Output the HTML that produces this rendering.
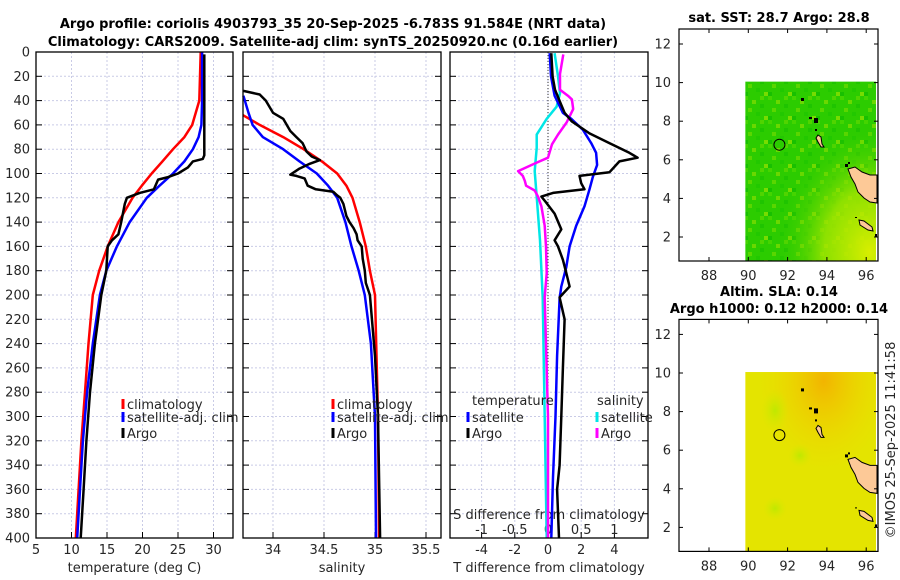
<!DOCTYPE html>
<html><head><meta charset="utf-8">
<style>
html,body{margin:0;padding:0;background:#fff;}
svg{display:block;font-family:"DejaVu Sans","Liberation Sans",sans-serif;}
</style></head>
<body>
<svg id="chart" width="900" height="580" viewBox="0 0 900 580" xmlns="http://www.w3.org/2000/svg">
<defs>
<radialGradient id="sstYel" cx="0.95" cy="0.95" r="0.7">
<stop offset="0" stop-color="#d8ee00"/><stop offset="0.5" stop-color="#a6e600" stop-opacity="0.8"/><stop offset="1" stop-color="#33cc00" stop-opacity="0"/>
</radialGradient>
<pattern id="mottle" width="24" height="24" patternUnits="userSpaceOnUse">
<rect width="24" height="24" fill="#2ccc00"/>
<rect width="4" height="4" fill="#44d400"/><rect x="8" y="4" width="4" height="4" fill="#6ad800"/>
<rect x="16" y="8" width="4" height="4" fill="#1fc400"/><rect x="4" y="12" width="4" height="4" fill="#5ad600"/>
<rect x="12" y="16" width="4" height="4" fill="#22c800"/><rect x="20" y="20" width="4" height="4" fill="#77dc00"/>
<rect x="0" y="20" width="4" height="4" fill="#18c000"/><rect x="16" y="0" width="4" height="4" fill="#50d400"/>
</pattern>
<radialGradient id="slaOr" cx="0.6" cy="0.05" r="0.5">
<stop offset="0" stop-color="#f2b400"/><stop offset="1" stop-color="#f0d800" stop-opacity="0"/>
</radialGradient>
<radialGradient id="slaGr1" cx="0.5" cy="0.5" r="0.5">
<stop offset="0" stop-color="#bfe800"/><stop offset="1" stop-color="#d8e800" stop-opacity="0"/>
</radialGradient>
</defs>
<g id="layer"></g>
</svg>
<script>
// ---- data (depth in dbar) ----
const climDepth = [0,40,60,70,80,90,100,110,120,140,160,180,200,240,280,320,360,400];
const climTemp  = [28.2,28.0,27.0,25.9,24.3,22.8,21.3,19.9,18.6,16.6,15.1,13.9,13.0,12.4,11.9,11.4,11.0,10.6];
const satDepth  = [0,40,60,70,80,90,100,110,120,140,160,180,200,240,280,320,360,400];
const satTemp   = [28.4,28.4,28.3,27.9,27.1,25.9,24.3,22.4,20.6,18.2,16.4,14.9,14.0,13.0,12.2,11.6,11.2,10.8];
const argoTDepth= [2,85,88,90,95,100,103,105,113,116,120,125,140,150,155,160,180,200,240,280,320,360,400];
const argoTemp  = [28.7,28.7,28.5,27.1,26.4,25.0,23.6,22.2,21.6,19.6,17.8,17.5,17.0,16.6,15.7,15.1,14.9,14.2,13.3,12.6,12.1,11.7,11.3];

const climSDepth= [52,60,70,80,90,100,110,120,140,160,180,200,300,400];
const climSal   = [33.706,33.87,34.10,34.30,34.48,34.63,34.72,34.78,34.85,34.91,34.95,35.0,35.03,35.04];
const satSDepth = [36,50,60,70,80,90,100,110,120,140,160,180,200,240,300,400];
const satSal    = [33.71,33.76,33.80,33.90,34.10,34.26,34.43,34.54,34.63,34.71,34.77,34.84,34.90,34.96,35.0,35.01];
const argoSDepth= [32,35,40,50,55,65,70,75,82,86,89,92,96,101,102,104,110,113,115,118,120,125,135,140,145,150,155,160,170,180,190,200,250,300,400];
const argoSal   = [33.71,33.87,33.93,34.0,34.1,34.17,34.23,34.29,34.33,34.38,34.46,34.36,34.26,34.17,34.23,34.31,34.34,34.42,34.59,34.63,34.66,34.69,34.72,34.75,34.79,34.82,34.83,34.87,34.88,34.90,34.91,34.95,35.0,35.03,35.05];

const dTArgoDepth = [1,20,31,41,50,57,67,75,83,87,90,93,99,102,108,113,116,119,124,133,146,155,160,171,182,193,202,220,260,300,340,360,400];
const dTArgo      = [0.2,0.28,0.42,0.72,1.0,1.43,2.5,3.7,4.9,5.4,4.3,4.1,3.7,1.9,2.0,2.2,0.3,-0.4,-0.1,0.4,0.8,0.4,0.6,0.9,1.1,1.3,0.7,1.0,0.9,0.8,0.7,0.55,0.66];
const dTSatDepth  = [1,20,36,50,55,64,75,83,93,103,113,127,143,160,177,193,203,250,300,350,400];
const dTSat       = [0.1,0.18,0.4,0.9,1.4,2.1,2.6,2.9,2.96,2.7,2.5,2.2,1.7,1.3,1.1,0.8,0.7,0.55,0.45,0.3,0.2];
const dSSatDepth  = [1,20,34,45,55,68,79,98,119,155,202,300,400];
const dSSat       = [0.1,0.15,0.18,0.13,-0.02,-0.17,-0.17,-0.2,-0.17,-0.12,-0.08,-0.05,-0.02];
const dSArgoDepth = [2,18,31,36,39,47,58,68,76,87,91,98,102,106,110,114,119,127,143,160,182,202,300,400];
const dSArgo      = [0.23,0.18,0.18,0.3,0.36,0.38,0.28,0.15,0.06,0.0,-0.17,-0.45,-0.38,-0.35,-0.33,-0.2,-0.15,-0.1,-0.05,-0.03,-0.02,-0.05,0.0,0.0];

const depthTicks = [0,20,40,60,80,100,120,140,160,180,200,220,240,260,280,300,320,340,360,380,400];
const tempTicks = [5,10,15,20,25,30];
const salTicks = [34,34.5,35,35.5];
const salTickLabels = ["34","34.5","35","35.5"];
const dTTicks = [-4,-2,0,2,4];
const dSTicks = [-1,-0.5,0,0.5,1];
const dSTickLabels = ["-1","-0.5","0","0.5","1"];
const lonTicks = [88,90,92,94,96];
const latTicks = [2,4,6,8,10,12];

// ---- scales ----
const Y = d => 52 + d*1.215;
const Tx = t => 36 + (t-5)*7.1;
const Sx = s => 243 + (s-33.706)*102;
const Dx = v => 548 + v*16.6;
const DSx = v => Dx(v*4);
const Lon = l => 709 + (l-88)*19.65;
const Lat = l => 82.6 - (l-10)*19.3;

const NS = "http://www.w3.org/2000/svg";
const layer = document.getElementById('layer');
function mk(tag, attrs, parent, text){
  const e = document.createElementNS(NS, tag);
  for (const k in attrs) e.setAttribute(k, attrs[k]);
  if (text !== undefined) e.textContent = text;
  (parent||layer).appendChild(e);
  return e;
}
function line(xs, ds, fx, color, name, w){
  const pts = xs.map((v,i)=>fx(v).toFixed(1)+','+Y(ds[i]).toFixed(1)).join(' ');
  const p = mk('polyline',{points:pts,fill:'none',stroke:color,'stroke-width':w||2.5,'stroke-linejoin':'round'});
  
  
  return p;
}

const panels = [
  {x0:36,x1:233,name:'temperature-panel',ticks:tempTicks,labels:tempTicks.map(String),fx:Tx,xlabel:'temperature (deg C)',showY:true},
  {x0:243,x1:441,name:'salinity-panel',ticks:salTicks,labels:salTickLabels,fx:Sx,xlabel:'salinity'},
  {x0:450,x1:648,name:'difference-panel',ticks:dTTicks,labels:dTTicks.map(String),fx:Dx,xlabel:'T difference from climatology'}
];
const yTop=52, yBot=538;
panels.forEach(p=>{
  const g = mk('g',{});
  
  
  depthTicks.forEach(d=>{
    mk('line',{x1:p.x0,x2:p.x1,y1:Y(d),y2:Y(d),stroke:'#c9cbe6','stroke-width':1,'stroke-dasharray':'2,2'},g);
    mk('line',{x1:p.x0,x2:p.x0+6,y1:Y(d),y2:Y(d),stroke:'#000'},g);
    mk('line',{x1:p.x1-6,x2:p.x1,y1:Y(d),y2:Y(d),stroke:'#000'},g);
  });
  p.ticks.forEach((t,i)=>{
    const x=p.fx(t);
    mk('line',{x1:x,x2:x,y1:yTop,y2:yBot,stroke:'#c9cbe6','stroke-width':1,'stroke-dasharray':'2,2'},g);
    mk('line',{x1:x,x2:x,y1:yBot-6,y2:yBot,stroke:'#000'},g);
    const tl = mk('text',{x:x,y:554,'font-size':13,'text-anchor':'middle',fill:'#262626'},g,p.labels[i]);
    
    
  });
  const xl = mk('text',{x:(p.x0+p.x1)/2,y:572,'font-size':13,'text-anchor':'middle',fill:'#262626'},g,p.xlabel);
  
  
  if(p.showY){
    depthTicks.forEach(d=>{
      const yl = mk('text',{x:30,y:Y(d)+4.5,'font-size':13,'text-anchor':'end',fill:'#262626'},g,String(d));
      
      
    });
  }
  p.g=g;
});

// zero line in diff panel
mk('line',{x1:Dx(0),x2:Dx(0),y1:yTop,y2:yBot,stroke:'#333','stroke-width':1,'stroke-dasharray':'1,2'});

// S-diff secondary axis labels
const sdt = mk('text',{x:549,y:519,'font-size':13,'text-anchor':'middle',fill:'#262626'},layer,'S difference from climatology');


dSTicks.forEach((v,i)=>{
  const t = mk('text',{x:DSx(v),y:534,'font-size':13,'text-anchor':'middle',fill:'#262626'},layer,dSTickLabels[i]);
  
  
});

// series
line(climTemp, climDepth, Tx, '#ff0000', 'temp-climatology-line');
line(satTemp, satDepth, Tx, '#0000ff', 'temp-satellite-line');
line(argoTemp, argoTDepth, Tx, '#000000', 'temp-argo-line');
line(climSal, climSDepth, Sx, '#ff0000', 'sal-climatology-line');
line(satSal, satSDepth, Sx, '#0000ff', 'sal-satellite-line');
line(argoSal, argoSDepth, Sx, '#000000', 'sal-argo-line');
line(dSSat, dSSatDepth, DSx, '#00e6e6', 'sdiff-satellite-line');
line(dSArgo, dSArgoDepth, DSx, '#ff00ff', 'sdiff-argo-line');
line(dTSat, dTSatDepth, Dx, '#0000ff', 'tdiff-satellite-line');
line(dTArgo, dTArgoDepth, Dx, '#000000', 'tdiff-argo-line');

// frames
panels.forEach(p=>{
  mk('rect',{x:p.x0,y:yTop,width:p.x1-p.x0,height:yBot-yTop,fill:'none',stroke:'#000','stroke-width':1.3});
});

// legends
function legend(x, y, color, label, name){
  const g = mk('g',{});
  
  
  mk('line',{x1:x,x2:x,y1:y-10,y2:y,stroke:color,'stroke-width':3},g);
  mk('text',{x:x+4,y:y,'font-size':13,fill:'#262626'},g,label);
}
legend(123,409,'#ff0000','climatology','legend-climatology');
legend(123,422,'#0000ff','satellite-adj. clim','legend-satellite');
legend(123,438,'#000000','Argo','legend-argo');
legend(333,409,'#ff0000','climatology','legend-sal-climatology');
legend(333,422,'#0000ff','satellite-adj. clim','legend-sal-satellite');
legend(333,438,'#000000','Argo','legend-sal-argo');
const lt = mk('text',{x:472,y:405,'font-size':13,fill:'#262626'},layer,'temperature');


const ls = mk('text',{x:597,y:405,'font-size':13,fill:'#262626'},layer,'salinity');


legend(468,422,'#0000ff','satellite','legend-tdiff-satellite');
legend(468,438,'#000000','Argo','legend-tdiff-argo');
legend(597,422,'#00e6e6','satellite','legend-sdiff-satellite');
legend(597,438,'#ff00ff','Argo','legend-sdiff-argo');

// titles
const t1 = mk('text',{x:333,y:28,'font-size':13,'font-weight':'bold','text-anchor':'middle',fill:'#000'},layer,'Argo profile: coriolis 4903793_35 20-Sep-2025 -6.783S 91.584E (NRT data)');


const t2 = mk('text',{x:333,y:46,'font-size':13,'font-weight':'bold','text-anchor':'middle',fill:'#000'},layer,'Climatology: CARS2009. Satellite-adj clim: synTS_20250920.nc (0.16d earlier)');



// maps
function map(dy, kind, name, titles){
  const g = mk('g',{transform:'translate(0,'+dy+')'});
  
  
  const x0=679,x1=878,y0=29,y1=261;
  const dx0=Lon(89.85), dyTop=Lat(10.05);
  if(kind==='sst'){
    mk('rect',{x:dx0,y:dyTop,width:876-dx0,height:y1-dyTop,fill:'url(#mottle)'},g);
    mk('rect',{x:dx0,y:dyTop,width:876-dx0,height:y1-dyTop,fill:'url(#sstYel)'},g);
  } else {
    mk('rect',{x:dx0,y:dyTop,width:876-dx0,height:y1-dyTop,fill:'#e4e400'},g);
    mk('rect',{x:dx0,y:dyTop,width:876-dx0,height:y1-dyTop,fill:'url(#slaOr)'},g);
    mk('ellipse',{cx:775,cy:120,rx:14,ry:22,fill:'url(#slaGr1)'},g);
    mk('ellipse',{cx:800,cy:165,rx:12,ry:12,fill:'url(#slaGr1)'},g);
    mk('ellipse',{cx:775,cy:218,rx:12,ry:12,fill:'url(#slaGr1)'},g);
  }
  // land
  mk('polygon',{points:'848,169 855,167 862,172 870,175 877,175 877,203 870,202 864,198 858,192 855,184 851,177',fill:'#fdc997',stroke:'#000','stroke-width':1},g);
  mk('polygon',{points:'818,135 821,137 822,144 824,147 821,147 818,142 816,138',fill:'#fdc997',stroke:'#000','stroke-width':1},g);
  mk('polygon',{points:'859,220 864,221 872,227 873,231 868,230 860,225',fill:'#fdc997',stroke:'#000','stroke-width':1},g);
  [[801,98,3,3],[809,117,3,2],[814,118,4,5],[815,129,2,2],[845,164,3,3],[848,162,2,2],[855,217,2,1],[875,234,2,3]].forEach(s=>{
    mk('rect',{x:s[0],y:s[1],width:s[2],height:s[3],fill:'#000'},g);
  });
  mk('circle',{cx:Lon(91.584),cy:Lat(6.783),r:5.5,fill:'none',stroke:'#000','stroke-width':1},g);
  mk('rect',{x:x0,y:y0,width:x1-x0,height:y1-y0,fill:'none',stroke:'#000','stroke-width':1.2},g);
  lonTicks.forEach(l=>{
    const x=Lon(l);
    mk('line',{x1:x,x2:x,y1:y1,y2:y1-4,stroke:'#000'},g);
    mk('line',{x1:x,x2:x,y1:y0,y2:y0+4,stroke:'#000'},g);
    mk('text',{x:x,y:y1+19,'font-size':13,'text-anchor':'middle',fill:'#262626'},g,String(l));
  });
  latTicks.forEach(l=>{
    const y=Lat(l);
    mk('line',{x1:x0,x2:x0+4,y1:y,y2:y,stroke:'#000'},g);
    mk('line',{x1:x1,x2:x1-4,y1:y,y2:y,stroke:'#000'},g);
    mk('text',{x:x0-8,y:y+4.5,'font-size':13,'text-anchor':'end',fill:'#262626'},g,String(l));
  });
  titles.forEach(t=>{
    mk('text',{x:779,y:t[1],'font-size':13,'font-weight':'bold','text-anchor':'middle',fill:'#000'},layer,t[0]);
  });
}
map(0,'sst','sst-map',[['sat. SST: 28.7 Argo: 28.8',22]]);
map(290.4,'sla','sla-map',[['Altim. SLA: 0.14',296],['Argo h1000: 0.12 h2000: 0.14',313]]);

const cp = mk('text',{x:0,y:0,'font-size':13,'text-anchor':'middle',fill:'#262626',transform:'translate(895,440) rotate(-90)'},layer,'©IMOS 25-Sep-2025 11:41:58');


</script>
</body></html>
